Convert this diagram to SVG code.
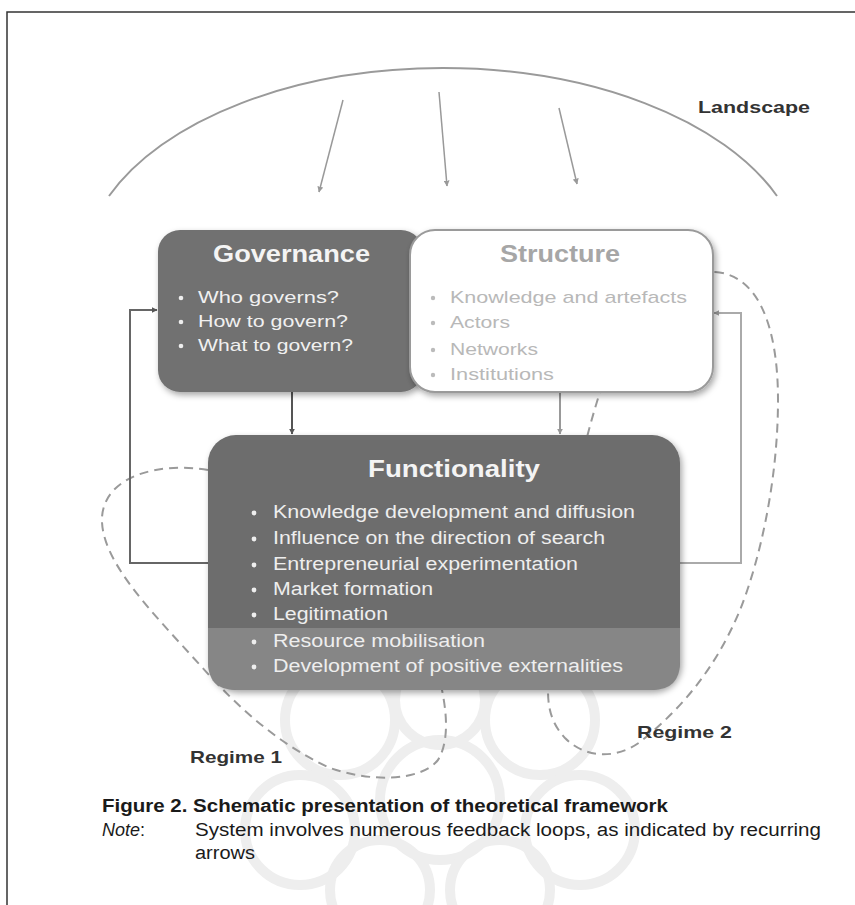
<svg xmlns="http://www.w3.org/2000/svg" width="855" height="905" viewBox="0 0 855 905">
<defs>
<style>
.t{font-family:"Liberation Sans",Arial,sans-serif}
.title{font-weight:bold;font-size:24px}
.wb{fill:#f0f0f0;font-size:17px}
.sb{fill:#b8b8b8;font-size:17px}
.fb{fill:#eeeeee;font-size:18px}
.lab{font-weight:bold;font-size:17px;fill:#333}
.cap{font-size:18px;fill:#1a1a1a}
.dash{fill:none;stroke:#9a9a9a;stroke-width:2;stroke-dasharray:9 6}
.conn{fill:none;stroke-width:2}
.wm{fill:none;stroke:#eeeeee;stroke-width:10}
</style>
<marker id="ah" viewBox="0 0 10 10" refX="9" refY="5" markerWidth="6" markerHeight="6" orient="auto" markerUnits="userSpaceOnUse">
<path d="M0,0 L10,5 L0,10 z" fill="#555"/>
</marker>
<marker id="ahl" viewBox="0 0 10 10" refX="9" refY="5" markerWidth="6" markerHeight="6" orient="auto" markerUnits="userSpaceOnUse">
<path d="M0,0 L10,5 L0,10 z" fill="#999"/>
</marker>
<filter id="sh" x="-10%" y="-10%" width="130%" height="130%">
<feDropShadow dx="2" dy="3" stdDeviation="3" flood-color="#000" flood-opacity="0.35"/>
</filter>
</defs>
<rect x="0" y="0" width="855" height="905" fill="#fff"/>
<path d="M7 905 V12 H855" fill="none" stroke="#333" stroke-width="1.5"/>

<g id="watermark">
<circle class="wm" cx="440" cy="800" r="60"/>
<circle class="wm" cx="340" cy="720" r="55"/>
<circle class="wm" cx="540" cy="720" r="55"/>
<circle class="wm" cx="300" cy="830" r="55"/>
<circle class="wm" cx="580" cy="830" r="55"/>
<circle class="wm" cx="440" cy="700" r="45"/>
<circle class="wm" cx="380" cy="890" r="50"/>
<circle class="wm" cx="500" cy="890" r="50"/>
</g>

<g id="landscape">
<path d="M109 196 A360 204 0 0 1 777 196" fill="none" stroke="#9a9a9a" stroke-width="2"/>
<text class="t lab" x="698" y="113" textLength="112" lengthAdjust="spacingAndGlyphs">Landscape</text>
</g>

<g id="regimes">
<path id="regime1" class="dash" d="M208 470 C160 462 105 475 102 517 C100 560 150 610 200 665 C240 710 280 745 330 768 C370 782 420 782 438 760 C450 740 446 710 442 690 C430 600 300 480 208 470 Z"/>
<path id="regime2" class="dash" d="M715 272 C760 275 778 330 778 400 C778 480 760 560 740 610 C715 670 680 710 640 742 C615 760 585 758 565 738 C550 722 548 705 548 690 C550 600 575 470 600 392 C620 330 680 272 715 272 Z"/>
<text class="t lab" x="190" y="763" textLength="92" lengthAdjust="spacingAndGlyphs">Regime 1</text>
<text class="t lab" x="637" y="738" textLength="95" lengthAdjust="spacingAndGlyphs">Regime 2</text>
</g>

<g id="connectors">
<line x1="343" y1="100" x2="319" y2="192" stroke="#999" stroke-width="1.5" marker-end="url(#ahl)"/>
<line x1="439" y1="92" x2="447" y2="186" stroke="#999" stroke-width="1.5" marker-end="url(#ahl)"/>
<line x1="559" y1="108" x2="577" y2="184" stroke="#999" stroke-width="1.5" marker-end="url(#ahl)"/>
<path class="conn" d="M208 563 H130 V310 H157" stroke="#666" marker-end="url(#ah)"/>
<path class="conn" d="M680 563 H741 V313 H714" stroke="#aaa" marker-end="url(#ahl)"/>
<line x1="292" y1="392" x2="292" y2="434" stroke="#555" stroke-width="2" marker-end="url(#ah)"/>
<line x1="560" y1="392" x2="560" y2="434" stroke="#999" stroke-width="2" marker-end="url(#ahl)"/>
</g>

<g id="governance">
<rect x="158" y="230" width="265" height="162" rx="22" fill="#717171" filter="url(#sh)"/>
<text class="t title" x="213" y="262" fill="#f4f4f4" textLength="157" lengthAdjust="spacingAndGlyphs">Governance</text>
<circle cx="181" cy="298" r="2.3" fill="#eee"/><circle cx="181" cy="322" r="2.3" fill="#eee"/><circle cx="181" cy="346" r="2.3" fill="#eee"/>
<text class="t wb" x="198" y="303" textLength="141" lengthAdjust="spacingAndGlyphs">Who governs?</text>
<text class="t wb" x="198" y="327" textLength="150" lengthAdjust="spacingAndGlyphs">How to govern?</text>
<text class="t wb" x="198" y="351" textLength="155" lengthAdjust="spacingAndGlyphs">What to govern?</text>
</g>

<g id="structure">
<rect x="410" y="230" width="303" height="162" rx="25" fill="#fff" stroke="#9a9a9a" stroke-width="2" filter="url(#sh)"/>
<text class="t title" x="500" y="262" fill="#a6a6a6" textLength="120" lengthAdjust="spacingAndGlyphs">Structure</text>
<circle cx="433" cy="298" r="2.2" fill="#bbb"/><circle cx="433" cy="323" r="2.2" fill="#bbb"/><circle cx="433" cy="350" r="2.2" fill="#bbb"/><circle cx="433" cy="375" r="2.2" fill="#bbb"/>
<text class="t sb" x="450" y="303" textLength="237" lengthAdjust="spacingAndGlyphs">Knowledge and artefacts</text>
<text class="t sb" x="450" y="328" textLength="60" lengthAdjust="spacingAndGlyphs">Actors</text>
<text class="t sb" x="450" y="355" textLength="88" lengthAdjust="spacingAndGlyphs">Networks</text>
<text class="t sb" x="450" y="380" textLength="104" lengthAdjust="spacingAndGlyphs">Institutions</text>
</g>

<g id="functionality">
<rect x="208" y="435" width="472" height="255" rx="28" fill="#6d6d6d" filter="url(#sh)"/>
<path d="M208 628 H680 V662 Q680 690 652 690 H236 Q208 690 208 662 Z" fill="#868686"/>
<text class="t title" x="368" y="477" fill="#f4f4f4" font-size="25" textLength="172" lengthAdjust="spacingAndGlyphs">Functionality</text>
<g fill="#eee">
<circle cx="254" cy="513" r="2.4"/><circle cx="254" cy="539" r="2.4"/><circle cx="254" cy="565" r="2.4"/><circle cx="254" cy="590" r="2.4"/><circle cx="254" cy="615" r="2.4"/><circle cx="254" cy="642" r="2.4"/><circle cx="254" cy="667" r="2.4"/>
</g>
<text class="t fb" x="273" y="518" textLength="362" lengthAdjust="spacingAndGlyphs">Knowledge development and diffusion</text>
<text class="t fb" x="273" y="544" textLength="332" lengthAdjust="spacingAndGlyphs">Influence on the direction of search</text>
<text class="t fb" x="273" y="570" textLength="305" lengthAdjust="spacingAndGlyphs">Entrepreneurial experimentation</text>
<text class="t fb" x="273" y="595" textLength="160" lengthAdjust="spacingAndGlyphs">Market formation</text>
<text class="t fb" x="273" y="620" textLength="115" lengthAdjust="spacingAndGlyphs">Legitimation</text>
<text class="t fb" x="273" y="647" textLength="212" lengthAdjust="spacingAndGlyphs">Resource mobilisation</text>
<text class="t fb" x="273" y="672" textLength="350" lengthAdjust="spacingAndGlyphs">Development of positive externalities</text>
</g>

<g id="caption">
<text class="t cap" x="102" y="812" font-weight="bold" textLength="566" lengthAdjust="spacingAndGlyphs">Figure 2. Schematic presentation of theoretical framework</text>
<text class="t cap" x="102" y="836"><tspan font-style="italic">Note</tspan>:</text>
<text class="t cap" x="195" y="836" textLength="626" lengthAdjust="spacingAndGlyphs">System involves numerous feedback loops, as indicated by recurring</text>
<text class="t cap" x="195" y="859" textLength="60" lengthAdjust="spacingAndGlyphs">arrows</text>
</g>
</svg>
